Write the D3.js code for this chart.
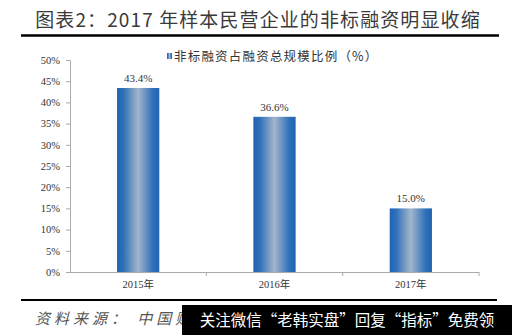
<!DOCTYPE html>
<html lang="zh">
<head>
    <meta charset="UTF-8">
    <title>非标融资占比</title>
    <script src="https://d3js.org/d3.v7.min.js"></script>
    <style>
        body { margin: 0; background: white; }
        svg { display: block; }
        .serif { font-family: "Liberation Serif", "Noto Sans CJK SC", serif; }
    </style>
</head>
<body>
<div id="chart"></div>
<script>
    // chart data
    const years = ["2015年", "2016年", "2017年"];
    const shares = [43.4, 36.6, 15.0];
    const yTicks = [0, 5, 10, 15, 20, 25, 30, 35, 40, 45, 50];
    const seriesName = "非标融资占融资总规模比例（%）";
    const title = "图表2：2017 年样本民营企业的非标融资明显收缩";
    const source = "资料来源： 中国财";
    const watermark = "关注微信“老韩实盘”回复“指标”免费领";

    const W = 512, H = 335;
    const margin = { top: 60, right: 33, bottom: 63, left: 70 };
    const width = W - margin.left - margin.right,
        height = H - margin.top - margin.bottom;

    const root = d3.select("#chart").append("svg")
        .attr("width", W).attr("height", H);

    // gradient for the bars (dark edges, pale centre)
    const grad = root.append("defs").append("linearGradient")
        .attr("id", "barGrad").attr("x1", "0%").attr("x2", "100%").attr("y1", "0%").attr("y2", "0%");
    grad.append("stop").attr("offset", "0%").attr("stop-color", "#2163b3");
    grad.append("stop").attr("offset", "15%").attr("stop-color", "#2f70ba");
    grad.append("stop").attr("offset", "50%").attr("stop-color", "#a2b6cb");
    grad.append("stop").attr("offset", "85%").attr("stop-color", "#2f70ba");
    grad.append("stop").attr("offset", "100%").attr("stop-color", "#2163b3");

    // title + rule
    root.append("text")
        .attr("x", 258).attr("y", 27)
        .attr("text-anchor", "middle")
        .style("font-family", "'Noto Sans CJK SC', sans-serif")
        .style("font-size", "19px")
        .style("letter-spacing", "1.1px")
        .attr("fill", "#3a3a3a")
        .text(title);
    root.append("line")
        .attr("x1", 21).attr("x2", 499).attr("y1", 35.5).attr("y2", 35.5)
        .attr("stroke", "#000").attr("stroke-width", 2.5);

    const svg = root.append("g")
        .attr("transform", `translate(${margin.left},${margin.top})`);

    const x = d3.scaleBand().domain(years).range([0, width]).paddingInner(0.69).paddingOuter(0.345);
    const xAxisScale = d3.scaleBand().domain(years).range([0, width]);
    const y = d3.scaleLinear().domain([0, 50]).range([height, 0]);

    // y axis
    const yAxis = svg.append("g")
        .call(d3.axisLeft(y).tickValues(yTicks).tickFormat(d => d + "%").tickSize(4).tickPadding(6));
    yAxis.select(".domain").attr("stroke", "#aaa");
    yAxis.selectAll(".tick line").attr("stroke", "#aaa");
    yAxis.selectAll("text")
        .attr("class", "serif")
        .style("font-size", "10.5px").attr("fill", "#333");

    // x axis with ticks between categories
    const xAxis = svg.append("g").attr("transform", `translate(0,${height})`);
    xAxis.append("line").attr("x1", 0).attr("x2", width).attr("y1", 0.5).attr("y2", 0.5).attr("stroke", "#aaa");
    xAxis.selectAll(".sep").data(years).enter().append("line")
        .attr("x1", d => xAxisScale(d) + xAxisScale.bandwidth())
        .attr("x2", d => xAxisScale(d) + xAxisScale.bandwidth())
        .attr("y1", 0).attr("y2", 4).attr("stroke", "#aaa");
    xAxis.selectAll(".lab").data(years).enter().append("text")
        .attr("class", "serif")
        .attr("x", d => x(d) + x.bandwidth() / 2).attr("y", 16)
        .attr("text-anchor", "middle")
        .style("font-size", "10.5px").attr("fill", "#333")
        .text(d => d);

    // bars
    const data = years.map((d, i) => ({ year: d, value: shares[i] }));
    svg.selectAll(".bar").data(data).enter().append("rect")
        .attr("x", d => x(d.year)).attr("width", x.bandwidth())
        .attr("y", d => y(d.value)).attr("height", d => height - y(d.value))
        .attr("fill", "url(#barGrad)");

    // value labels
    svg.selectAll(".val").data(data).enter().append("text")
        .attr("class", "serif")
        .attr("x", d => x(d.year) + x.bandwidth() / 2).attr("y", d => y(d.value) - 6)
        .attr("text-anchor", "middle")
        .style("font-size", "11px").attr("fill", "#333")
        .text(d => d.value.toFixed(1) + "%");

    // legend
    root.append("rect").attr("x", 167).attr("y", 53).attr("width", 5).attr("height", 6)
        .attr("fill", "url(#barGrad)");
    root.append("text")
        .attr("x", 174).attr("y", 61)
        .style("font-family", "'Noto Sans CJK SC', sans-serif")
        .style("font-size", "12.5px")
        .style("letter-spacing", "1.2px")
        .attr("fill", "#333")
        .text(seriesName);

    // bottom rule and source
    root.append("line")
        .attr("x1", 21).attr("x2", 497).attr("y1", 300).attr("y2", 300)
        .attr("stroke", "#000").attr("stroke-width", 2);
    root.append("text")
        .attr("x", 35).attr("y", 324)
        .style("font-family", "'Noto Sans CJK SC', sans-serif")
        .style("font-style", "italic")
        .style("font-size", "15px")
        .style("letter-spacing", "4px")
        .attr("fill", "#555")
        .text(source);

    // watermark banner
    root.append("rect").attr("x", 182).attr("y", 305).attr("width", 330).attr("height", 30).attr("fill", "#000");
    root.append("text")
        .attr("x", 347).attr("y", 326)
        .attr("text-anchor", "middle")
        .style("font-family", "'Noto Sans CJK SC', sans-serif")
        .style("font-size", "15.5px").attr("fill", "#fff")
        .text(watermark);
</script>
</body>
</html>
